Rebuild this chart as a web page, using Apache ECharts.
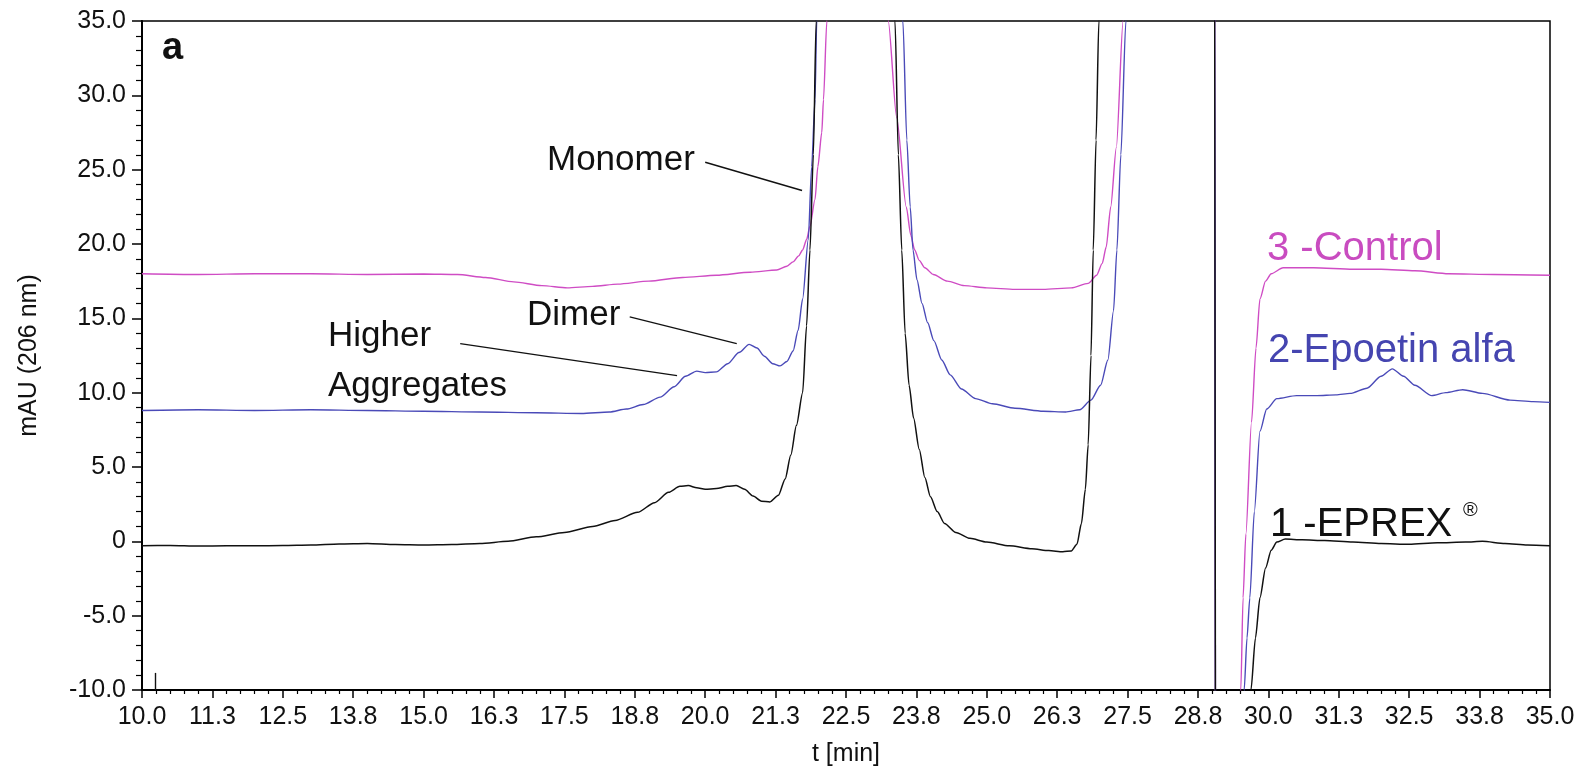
<!DOCTYPE html>
<html>
<head>
<meta charset="utf-8">
<script src="https://cdn.jsdelivr.net/npm/echarts@6/dist/echarts.min.js"></script>
<style>
  html, body { margin: 0; padding: 0; background: #ffffff; }
  #chart { width: 1592px; height: 772px; }
</style>
</head>
<body>
<div id="chart"></div>
<script>
// SEC-HPLC overlay, 206 nm: retention time [min] vs absorbance [mAU]

// Axis ticks and their printed labels
const xTicks = [10, 11.25, 12.5, 13.75, 15, 16.25, 17.5, 18.75, 20, 21.25, 22.5,
                23.75, 25, 26.25, 27.5, 28.75, 30, 31.25, 32.5, 33.75, 35];
const xTickLabels = ['10.0', '11.3', '12.5', '13.8', '15.0', '16.3', '17.5', '18.8', '20.0', '21.3', '22.5',
                     '23.8', '25.0', '26.3', '27.5', '28.8', '30.0', '31.3', '32.5', '33.8', '35.0'];
const yTicks = [-10, -5, 0, 5, 10, 15, 20, 25, 30, 35];
const yTickLabels = ['-10.0', '-5.0', '0', '5.0', '10.0', '15.0', '20.0', '25.0', '30.0', '35.0'];

// Trace 1 - EPREX (black) [t, mAU]; values above 35 / below -10 run off scale
const eprex = [
  [10.0, -0.30], [10.5, -0.28], [11.0, -0.32], [11.5, -0.30], [12.0, -0.30], [12.5, -0.28],
  [13.0, -0.25], [13.5, -0.18], [14.0, -0.15], [14.5, -0.22], [15.0, -0.25], [15.5, -0.22],
  [16.0, -0.15], [16.5, 0.0], [17.0, 0.3], [17.5, 0.6], [18.0, 1.0], [18.4, 1.4], [18.8, 1.95],
  [19.1, 2.6], [19.35, 3.3], [19.55, 3.7], [19.7, 3.75], [19.85, 3.6], [20.0, 3.5], [20.2, 3.55],
  [20.4, 3.7], [20.55, 3.75], [20.7, 3.5], [20.85, 3.05], [21.0, 2.7], [21.15, 2.65], [21.3, 3.1],
  [21.42, 4.2], [21.52, 5.8], [21.62, 7.8], [21.73, 10.0], [21.8, 14.5], [21.86, 19.6], [21.92, 26.0],
  [21.97, 35.0], [22.05, 60], [22.6, 120], [23.2, 60], [23.37, 35], [23.43, 26], [23.49, 19.6],
  [23.55, 14.0], [23.62, 10.5], [23.7, 8.3], [23.8, 6.2], [23.9, 4.3], [24.0, 3.0], [24.12, 2.0],
  [24.25, 1.2], [24.45, 0.6], [24.7, 0.2], [25.0, -0.05], [25.4, -0.3], [25.8, -0.5], [26.1, -0.62],
  [26.35, -0.7], [26.5, -0.65], [26.6, -0.2], [26.68, 1.2], [26.75, 3.5], [26.8, 6.5], [26.85, 12.5],
  [26.89, 19.6], [26.94, 27], [26.99, 35], [27.1, 60], [28.0, 150], [28.9, 80], [29.04, 50],
  [29.07, -40], [29.3, -80], [29.6, -30], [29.69, -10], [29.77, -6.5], [29.85, -3.8], [29.95, -1.8],
  [30.05, -0.6], [30.15, -0.05], [30.3, 0.15], [30.6, 0.1], [31.0, 0.05], [31.5, -0.05], [32.0, -0.15],
  [32.5, -0.2], [33.0, -0.1], [33.5, -0.05], [33.8, 0.0], [34.2, -0.15], [34.6, -0.25], [35.0, -0.3]
];

// Trace 2 - Epoetin alfa (blue)
const epoetin = [
  [10.0, 8.8], [11.0, 8.85], [12.0, 8.8], [13.0, 8.85], [14.0, 8.8], [15.0, 8.75], [16.0, 8.7],
  [17.0, 8.65], [17.8, 8.6], [18.3, 8.7], [18.6, 8.9], [18.9, 9.2], [19.2, 9.7], [19.45, 10.4],
  [19.65, 11.1], [19.85, 11.45], [20.0, 11.35], [20.2, 11.4], [20.4, 11.95], [20.6, 12.7],
  [20.78, 13.25], [20.92, 13.0], [21.05, 12.45], [21.2, 11.95], [21.33, 11.8], [21.45, 12.1],
  [21.56, 12.8], [21.65, 14.2], [21.73, 16.3], [21.83, 20.3], [21.89, 25.2], [21.95, 29.7],
  [21.98, 35], [22.1, 60], [22.7, 120], [23.35, 60], [23.51, 35], [23.58, 27], [23.64, 22.5],
  [23.69, 19.6], [23.76, 17.6], [23.85, 16.0], [23.95, 14.7], [24.06, 13.5], [24.2, 12.2],
  [24.35, 11.2], [24.55, 10.25], [24.8, 9.6], [25.1, 9.25], [25.5, 8.95], [26.0, 8.75], [26.4, 8.7],
  [26.65, 8.85], [26.85, 9.5], [27.02, 10.5], [27.15, 12.2], [27.25, 15.5], [27.31, 19.6],
  [27.38, 26], [27.47, 35], [27.6, 60], [28.3, 150], [28.95, 80], [29.04, 50], [29.07, -40],
  [29.3, -80], [29.5, -30], [29.57, -10], [29.62, -6.5], [29.67, -3.8], [29.75, 2.0], [29.85, 7.4],
  [29.97, 8.9], [30.15, 9.6], [30.5, 9.8], [30.86, 9.8], [31.2, 9.85], [31.45, 9.95], [31.75, 10.3],
  [32.0, 11.1], [32.2, 11.6], [32.4, 11.1], [32.6, 10.5], [32.9, 9.8], [33.15, 10.0], [33.45, 10.2],
  [33.8, 9.95], [34.29, 9.5], [34.7, 9.4], [35.0, 9.35]
];

// Trace 3 - Control (magenta)
const control = [
  [10.0, 18.0], [11.0, 17.95], [12.0, 18.0], [13.0, 18.0], [14.0, 17.95], [15.0, 17.98], [15.6, 17.95],
  [16.1, 17.75], [16.6, 17.45], [17.1, 17.2], [17.55, 17.05], [18.0, 17.15], [18.45, 17.3], [19.0, 17.5],
  [19.6, 17.75], [20.2, 17.9], [20.8, 18.1], [21.27, 18.25], [21.45, 18.5], [21.56, 18.8], [21.66, 19.2],
  [21.73, 19.6], [21.8, 20.3], [21.86, 21.2], [21.95, 23.0], [22.0, 25.2], [22.07, 27.5], [22.1, 29.7],
  [22.16, 35], [22.3, 60], [22.8, 120], [23.1, 60], [23.25, 35], [23.4, 28.5], [23.57, 22.5],
  [23.65, 20.6], [23.72, 19.6], [23.8, 18.9], [23.9, 18.4], [24.05, 17.95], [24.3, 17.5], [24.6, 17.2],
  [25.0, 17.05], [25.5, 16.95], [26.0, 16.95], [26.5, 17.05], [26.8, 17.35], [26.95, 17.9], [27.05, 18.7],
  [27.12, 19.8], [27.2, 22.5], [27.3, 26.5], [27.42, 35], [27.55, 60], [28.2, 150], [28.9, 80],
  [29.04, 50], [29.07, -40], [29.3, -80], [29.45, -30], [29.51, -10], [29.55, -3.8], [29.6, 0.5],
  [29.7, 8.0], [29.78, 13.0], [29.85, 16.3], [29.95, 17.5], [30.05, 18.0], [30.26, 18.4], [30.8, 18.4],
  [31.5, 18.3], [32.0, 18.3], [32.6, 18.2], [33.2, 18.0], [34.0, 17.95], [35.0, 17.9]
];

// Peak call-outs: leader lines from label to peak [t, mAU]
const leaders = [
  { name: 'Monomer', from: [20.0, 25.5], to: [21.72, 23.6] },
  { name: 'Dimer', from: [18.66, 15.1], to: [20.56, 13.3] },
  { name: 'Higher Aggregates', from: [15.65, 13.3], to: [19.5, 11.15] }
];
// Injection marker near the start of the run
const injectionMark = { t: 10.23, from: -10, to: -8.85 };

const FONT = '"Liberation Sans", Arial, Helvetica, sans-serif';
const INK = '#111111';
const MAGENTA = '#cf4cc4';
const BLUE = '#4a4ab8';

const chart = echarts.init(document.getElementById('chart'), null, { renderer: 'canvas' });

function lineSeries(name, data, color, width, extra) {
  return Object.assign({
    name: name,
    type: 'line',
    data: data,
    showSymbol: false,
    symbol: 'none',
    smooth: 0.25,
    smoothMonotone: 'x',
    clip: true,
    lineStyle: { color: color, width: width },
    emphasis: { disabled: true },
    silent: true,
    z: 3
  }, extra || {});
}

const leaderLines = leaders.map(function (l) {
  return [{ coord: l.from }, { coord: l.to }];
});
leaderLines.push([{ coord: [injectionMark.t, injectionMark.from] }, { coord: [injectionMark.t, injectionMark.to] }]);

function txt(text, x, y, size, color, weight) {
  return {
    type: 'text',
    x: x,
    y: y,
    silent: true,
    style: {
      text: text,
      fill: color,
      font: (weight || 'normal') + ' ' + size + 'px ' + FONT,
      textAlign: 'left',
      textVerticalAlign: 'middle'
    }
  };
}

const option = {
  backgroundColor: '#ffffff',
  animation: false,
  grid: {
    left: 142, right: 42, top: 21, bottom: 80,
    show: true, borderColor: '#000000', borderWidth: 1.5, backgroundColor: 'transparent'
  },
  xAxis: {
    type: 'value',
    min: 10, max: 35, interval: 1.25,
    name: 't [min]',
    nameLocation: 'middle',
    nameGap: 52,
    nameTextStyle: { fontFamily: FONT, fontSize: 25, color: INK },
    axisLine: { show: true, onZero: false, lineStyle: { color: '#000', width: 2 } },
    axisTick: { show: true, inside: false, length: 8, lineStyle: { color: '#000', width: 1.5 } },
    minorTick: { show: true, splitNumber: 5, length: 4, lineStyle: { color: '#000', width: 1.2 } },
    splitLine: { show: false },
    axisLabel: {
      margin: 15, fontFamily: FONT, fontSize: 25, color: INK,
      formatter: function (v) {
        const i = xTicks.findIndex(function (t) { return Math.abs(t - v) < 1e-6; });
        return i >= 0 ? xTickLabels[i] : '';
      }
    }
  },
  yAxis: {
    type: 'value',
    min: -10, max: 35, interval: 5,
    name: 'mAU (206 nm)',
    nameLocation: 'middle',
    nameGap: 100,
    nameRotate: 90,
    nameTextStyle: { fontFamily: FONT, fontSize: 25, color: INK },
    axisLine: { show: true, onZero: false, lineStyle: { color: '#000', width: 2 } },
    axisTick: { show: true, inside: false, length: 10, lineStyle: { color: '#000', width: 1.5 } },
    minorTick: { show: true, splitNumber: 5, length: 6, lineStyle: { color: '#000', width: 1.2 } },
    splitLine: { show: false },
    axisLabel: {
      margin: 16, fontFamily: FONT, fontSize: 25, color: INK,
      formatter: function (v) {
        const i = yTicks.findIndex(function (t) { return Math.abs(t - v) < 1e-6; });
        return i >= 0 ? yTickLabels[i] : '';
      }
    }
  },
  series: [
    lineSeries('3 -Control', control, MAGENTA, 1.4),
    lineSeries('2-Epoetin alfa', epoetin, BLUE, 1.4),
    lineSeries('1 -EPREX', eprex, INK, 1.5, {
      markLine: {
        silent: true,
        symbol: ['none', 'none'],
        label: { show: false },
        lineStyle: { color: INK, width: 1.4, type: 'solid' },
        emphasis: { disabled: true },
        data: leaderLines
      }
    })
  ],
  graphic: [
    txt('a', 162, 49, 38, INK, 'bold'),
    txt('Monomer', 547, 160, 35, INK),
    txt('Dimer', 527, 315, 35, INK),
    txt('Higher', 328, 336, 35, INK),
    txt('Aggregates', 328, 386, 35, INK),
    txt('3 -Control', 1267, 249, 40, '#c94cc0'),
    txt('2-Epoetin alfa', 1268, 351, 40, '#4545b0'),
    txt('1 -EPREX', 1270, 525, 40, INK),
    txt('\u00AE', 1463, 510, 20, INK)
  ]
};

chart.setOption(option);
</script>
</body>
</html>
